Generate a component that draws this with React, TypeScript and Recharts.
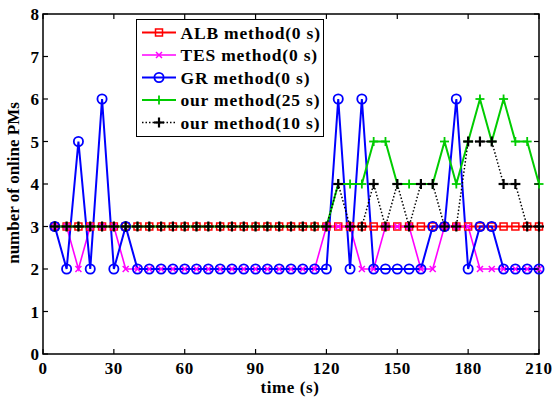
import React from 'react'
import { LineChart, Line, XAxis, YAxis, ReferenceArea, Legend } from 'recharts'

const times = [5, 10, 15, 20, 25, 30, 35, 40, 45, 50, 55, 60, 65, 70, 75, 80, 85, 90, 95, 100, 105, 110, 115, 120, 125, 130, 135, 140, 145, 150, 155, 160, 165, 170, 175, 180, 185, 190, 195, 200, 205, 210]
const albValues = [3, 3, 3, 3, 3, 3, 3, 3, 3, 3, 3, 3, 3, 3, 3, 3, 3, 3, 3, 3, 3, 3, 3, 3, 3, 3, 3, 3, 3, 3, 3, 3, 3, 3, 3, 3, 3, 3, 3, 3, 3, 3]
const tesValues = [3, 3, 2, 3, 3, 3, 2, 2, 2, 2, 2, 2, 2, 2, 2, 2, 2, 2, 2, 2, 2, 2, 2, 3, 3, 3, 2, 2, 3, 3, 3, 2, 2, 3, 3, 3, 2, 2, 2, 2, 2, 2]
const grValues = [3, 2, 5, 2, 6, 2, 3, 2, 2, 2, 2, 2, 2, 2, 2, 2, 2, 2, 2, 2, 2, 2, 2, 2, 6, 2, 6, 2, 2, 2, 2, 2, 3, 3, 6, 2, 3, 3, 2, 2, 2, 2]
const our25Values = [3, 3, 3, 3, 3, 3, 3, 3, 3, 3, 3, 3, 3, 3, 3, 3, 3, 3, 3, 3, 3, 3, 3, 3, 4, 4, 4, 5, 5, 4, 4, 4, 4, 5, 4, 5, 6, 5, 6, 5, 5, 4]
const our10Values = [3, 3, 3, 3, 3, 3, 3, 3, 3, 3, 3, 3, 3, 3, 3, 3, 3, 3, 3, 3, 3, 3, 3, 3, 4, 3, 3, 4, 3, 4, 3, 4, 4, 3, 3, 5, 5, 5, 4, 4, 3, 3]

const xTicks = [0, 30, 60, 90, 120, 150, 180, 210]
const yTicks = [0, 1, 2, 3, 4, 5, 6, 7, 8]

type Kind = 'square' | 'cross' | 'circle' | 'plus' | 'plusBold'

const series: { key: string; name: string; color: string; kind: Kind; width: number; dash?: string }[] = [
  { key: 'alb', name: 'ALB method(0 s)', color: '#ff0000', kind: 'square', width: 2 },
  { key: 'tes', name: 'TES method(0 s)', color: '#ff00ff', kind: 'cross', width: 1.6 },
  { key: 'gr', name: 'GR method(0 s)', color: '#0000ff', kind: 'circle', width: 2 },
  { key: 'our25', name: 'our method(25 s)', color: '#00cc00', kind: 'plus', width: 2 },
  { key: 'our10', name: 'our method(10 s)', color: '#000000', kind: 'plusBold', width: 1.5, dash: '1.5 2' },
]

const data = times.map((t, i) => ({
  t,
  alb: albValues[i],
  tes: tesValues[i],
  gr: grValues[i],
  our25: our25Values[i],
  our10: our10Values[i],
}))

// plot box (layout only)
const TOP = 14
const BOTTOM = 354
const LEFT = 43
const RIGHT = 539
const FONT = "'Liberation Serif', 'Times New Roman', serif"

function Marker({ kind, color, cx, cy }: { kind: Kind; color: string; cx: number; cy: number }) {
  if (kind === 'square')
    return <rect x={cx - 3.5} y={cy - 3.5} width={7} height={7} fill="none" stroke={color} strokeWidth={1.5} />
  if (kind === 'cross')
    return (
      <g stroke={color} strokeWidth={1.5}>
        <line x1={cx - 3} y1={cy - 3} x2={cx + 3} y2={cy + 3} />
        <line x1={cx - 3} y1={cy + 3} x2={cx + 3} y2={cy - 3} />
      </g>
    )
  if (kind === 'circle')
    return <circle cx={cx} cy={cy} r={4.6} fill="none" stroke={color} strokeWidth={1.8} />
  const s = kind === 'plusBold' ? 5 : 4.5
  return (
    <g stroke={color} strokeWidth={kind === 'plusBold' ? 2.2 : 1.8}>
      <line x1={cx - s} y1={cy} x2={cx + s} y2={cy} />
      <line x1={cx} y1={cy - s} x2={cx} y2={cy + s} />
    </g>
  )
}

function makeDot(kind: Kind, color: string) {
  return (props: any) => {
    const { cx, cy, index } = props
    if (cx == null || cy == null) return <g key={index} />
    return (
      <g key={index}>
        <Marker kind={kind} color={color} cx={cx} cy={cy} />
      </g>
    )
  }
}

function XTick(props: any) {
  const { x, payload } = props
  return (
    <g>
      <line x1={x} y1={BOTTOM} x2={x} y2={BOTTOM - 5} stroke="#000" strokeWidth={1.2} />
      <line x1={x} y1={TOP} x2={x} y2={TOP + 5} stroke="#000" strokeWidth={1.2} />
      <text x={x} y={BOTTOM + 20} textAnchor="middle" fontFamily={FONT} fontWeight="bold" fontSize={17} letterSpacing={0.6} fill="#000">
        {payload.value}
      </text>
    </g>
  )
}

function YTick(props: any) {
  const { y, payload } = props
  return (
    <g>
      <line x1={LEFT} y1={y} x2={LEFT + 5} y2={y} stroke="#000" strokeWidth={1.2} />
      <line x1={RIGHT} y1={y} x2={RIGHT - 5} y2={y} stroke="#000" strokeWidth={1.2} />
      <text x={39} y={y + 6} textAnchor="end" fontFamily={FONT} fontWeight="bold" fontSize={17} fill="#000">
        {payload.value}
      </text>
    </g>
  )
}

function XLabel() {
  return (
    <text x={290} y={393} textAnchor="middle" fontFamily={FONT} fontWeight="bold" fontSize={17} letterSpacing={0.6} fill="#000">
      time (s)
    </text>
  )
}

function YLabel() {
  return (
    <text
      x={0}
      y={0}
      transform="translate(19,183) rotate(-90)"
      textAnchor="middle"
      fontFamily={FONT}
      fontWeight="bold"
      fontSize={17}
      fill="#000"
    >
      number of online PMs
    </text>
  )
}

function LegendBox() {
  return (
    <div style={{ width: 188, height: 118, border: '1.5px solid #000', background: '#fff', boxSizing: 'border-box' }}>
      <svg width={186} height={116} style={{ display: 'block' }}>
        {series.map((s, i) => {
          const y = 12.5 + 22.5 * i
          return (
            <g key={s.key}>
              <line x1={5} y1={y} x2={39} y2={y} stroke={s.color} strokeWidth={s.width} strokeDasharray={s.dash} />
              <Marker kind={s.kind} color={s.color} cx={22} cy={y} />
              <text x={43.5} y={y + 6} fontFamily={FONT} fontWeight="bold" fontSize={17.5} letterSpacing={0.8} fill="#000">
                {s.name}
              </text>
            </g>
          )
        })}
      </svg>
    </div>
  )
}

export default function App() {
  return (
    <div style={{ position: 'absolute', left: 0, top: 0, background: '#fff' }}>
      <LineChart width={556} height={398} data={data} margin={{ top: TOP, right: 556 - RIGHT, left: 0, bottom: 0 }}>
        <XAxis
          dataKey="t"
          type="number"
          domain={[0, 210]}
          ticks={xTicks}
          interval={0}
          height={44}
          axisLine={false}
          tickLine={false}
          tick={<XTick />}
          label={<XLabel />}
        />
        <YAxis
          type="number"
          domain={[0, 8]}
          ticks={yTicks}
          interval={0}
          width={LEFT}
          axisLine={false}
          tickLine={false}
          tick={<YTick />}
          label={<YLabel />}
        />
        <ReferenceArea x1={0} x2={210} y1={0} y2={8} fill="none" stroke="#000" strokeWidth={1.5} fillOpacity={0} />
        <Legend
          layout="vertical"
          align="center"
          verticalAlign="middle"
          wrapperStyle={{ left: 136, top: 19, width: 188, height: 118 }}
          content={<LegendBox />}
        />
        {series.map(s => (
          <Line
            key={s.key}
            type="linear"
            dataKey={s.key}
            name={s.name}
            stroke={s.color}
            strokeWidth={s.width}
            strokeDasharray={s.dash}
            dot={makeDot(s.kind, s.color)}
            activeDot={false}
            isAnimationActive={false}
          />
        ))}
      </LineChart>
    </div>
  )
}
